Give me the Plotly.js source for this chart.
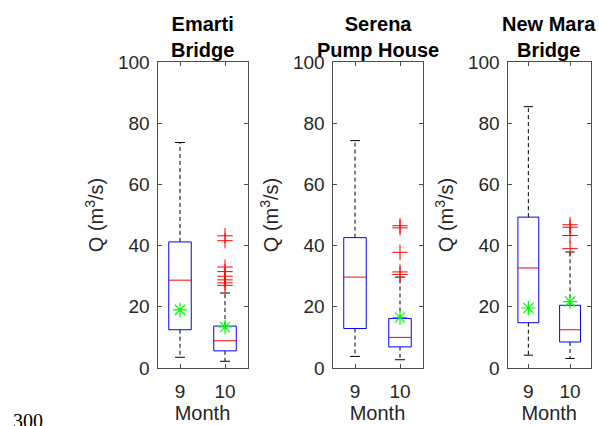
<!DOCTYPE html>
<html>
<head>
<meta charset="utf-8">
<script src="https://cdn.plot.ly/plotly-3.0.1.min.js"></script>
<style>html,body{margin:0;padding:0;background:#fff;}#chart{width:599px;height:426px;}</style>
</head>
<body>
<div id="chart"></div>
<script>
// ---- data ----
const stations = ['Emarti<br>Bridge', 'Serena<br>Pump House', 'New Mara<br>Bridge'];
const months = ['9', '10'];
const monthPos = [1, 2];
// per station: [month 9, month 10]
const lowerWhisker = [[3.5, 2.2], [3.8, 2.7], [4.2, 3.1]];
const boxQ1 = [[12.5, 5.6], [12.9, 6.9], [14.8, 8.5]];
const boxMedian = [[28.7, 8.9], [29.7, 10.0], [32.7, 12.5]];
const boxQ3 = [[41.2, 13.7], [42.6, 16.2], [49.3, 20.5]];
const upperWhisker = [[73.7, 24.5], [74.3, 29.7], [85.4, 37.9]];
const meanQ = [[19.0, 13.4], [null, 16.5], [19.6, 21.7]];
const outliers = [
  [[], [43.2, 41.6, 33.0, 31.5, 30.0, 28.8, 27.8, 27.0]],
  [[], [46.5, 45.8, 37.8, 31.4, 30.6]],
  [[], [46.8, 46.0, 43.3, 39.0]]
];
const yTicks = [0, 20, 40, 60, 80, 100];

// ---- layout constants ----
const W = 599, H = 426;
const xDom = [[157.5, 247.5], [332.5, 422.5], [507.5, 590.9]];
const yDom = [(H - 368) / H, (H - 62) / H];
const boxHalf = 0.25, capHalf = 0.11;
const font = 'Liberation Sans, Arial, Helvetica, sans-serif';
const axisColor = '#4d4d4d';
const textColor = '#262626';

const traces = [];
const layout = {
  width: W, height: H,
  margin: {l: 0, r: 0, t: 0, b: 0},
  paper_bgcolor: '#fff', plot_bgcolor: '#fff',
  showlegend: false,
  font: {family: font, color: textColor},
  annotations: []
};

stations.forEach((st, s) => {
  const sfx = s === 0 ? '' : String(s + 1);
  const xa = 'x' + sfx, ya = 'y' + sfx;
  monthPos.forEach((p, m) => {
    // whiskers (dashed)
    traces.push({type: 'scatter', mode: 'lines', xaxis: xa, yaxis: ya, hoverinfo: 'skip',
      x: [p, p, null, p, p], y: [boxQ3[s][m], upperWhisker[s][m], null, boxQ1[s][m], lowerWhisker[s][m]],
      line: {color: '#000', width: 1, dash: '4px,3px'}});
    // caps
    traces.push({type: 'scatter', mode: 'lines', xaxis: xa, yaxis: ya, hoverinfo: 'skip',
      x: [p - capHalf, p + capHalf, null, p - capHalf, p + capHalf],
      y: [upperWhisker[s][m], upperWhisker[s][m], null, lowerWhisker[s][m], lowerWhisker[s][m]],
      line: {color: '#000', width: 1}});
    // box
    traces.push({type: 'scatter', mode: 'lines', xaxis: xa, yaxis: ya,
      x: [p - boxHalf, p + boxHalf, p + boxHalf, p - boxHalf, p - boxHalf],
      y: [boxQ1[s][m], boxQ1[s][m], boxQ3[s][m], boxQ3[s][m], boxQ1[s][m]],
      line: {color: '#0000ff', width: 1}});
    // median
    traces.push({type: 'scatter', mode: 'lines', xaxis: xa, yaxis: ya,
      x: [p - boxHalf, p + boxHalf], y: [boxMedian[s][m], boxMedian[s][m]],
      line: {color: '#ff0000', width: 1}});
    // outliers
    if (outliers[s][m].length) {
      traces.push({type: 'scatter', mode: 'markers', xaxis: xa, yaxis: ya,
        x: outliers[s][m].map(() => p), y: outliers[s][m],
        marker: {symbol: 'cross-thin-open', size: 11, color: '#ff0000', line: {color: '#ff0000', width: 1}}});
    }
    // mean
    if (meanQ[s][m] !== null) {
      traces.push({type: 'scatter', mode: 'markers', xaxis: xa, yaxis: ya,
        x: [p], y: [meanQ[s][m]],
        marker: {symbol: 'asterisk-open', size: 12, color: '#00ff00', line: {color: '#00ff00', width: 1.2}}});
    }
  });

  const axCommon = {
    showline: true, mirror: 'ticks', linecolor: axisColor, linewidth: 1,
    ticks: 'inside', ticklen: 4, tickcolor: axisColor, tickwidth: 1,
    showgrid: false, zeroline: false, fixedrange: true,
    tickfont: {family: font, size: 19, color: textColor}
  };
  layout['xaxis' + sfx] = Object.assign({}, axCommon, {
    domain: [xDom[s][0] / W, xDom[s][1] / W], anchor: ya,
    range: [0.5, 2.5], tickvals: monthPos, ticktext: months,
    ticklabelstandoff: 6,
    title: {text: 'Month', font: {family: font, size: 20, color: textColor}, standoff: 3}
  });
  layout['yaxis' + sfx] = Object.assign({}, axCommon, {
    domain: yDom, anchor: xa,
    range: [0, 100], tickvals: yTicks,
    ticklabelstandoff: 3,
    title: {text: 'Q (m<sup>3</sup>/s)', font: {family: font, size: 20, color: textColor}, standoff: 8}
  });
  layout.annotations.push({
    xref: 'paper', yref: 'paper',
    x: (xDom[s][0] + xDom[s][1]) / 2 / W, y: yDom[1],
    xanchor: 'center', yanchor: 'bottom', showarrow: false, borderpad: 0,
    text: '<b>' + st + '</b>',
    font: {family: font, size: 20, color: '#000'}
  });
});

layout.annotations.push({
  xref: 'paper', yref: 'paper', x: 12 / W, y: (H - 409) / H,
  xanchor: 'left', yanchor: 'top', showarrow: false, borderpad: 0,
  text: '300', font: {family: 'Liberation Serif, Times New Roman, serif', size: 20, color: '#000'}
});

Plotly.newPlot('chart', traces, layout, {staticPlot: true, displayModeBar: false});
</script>
</body>
</html>
